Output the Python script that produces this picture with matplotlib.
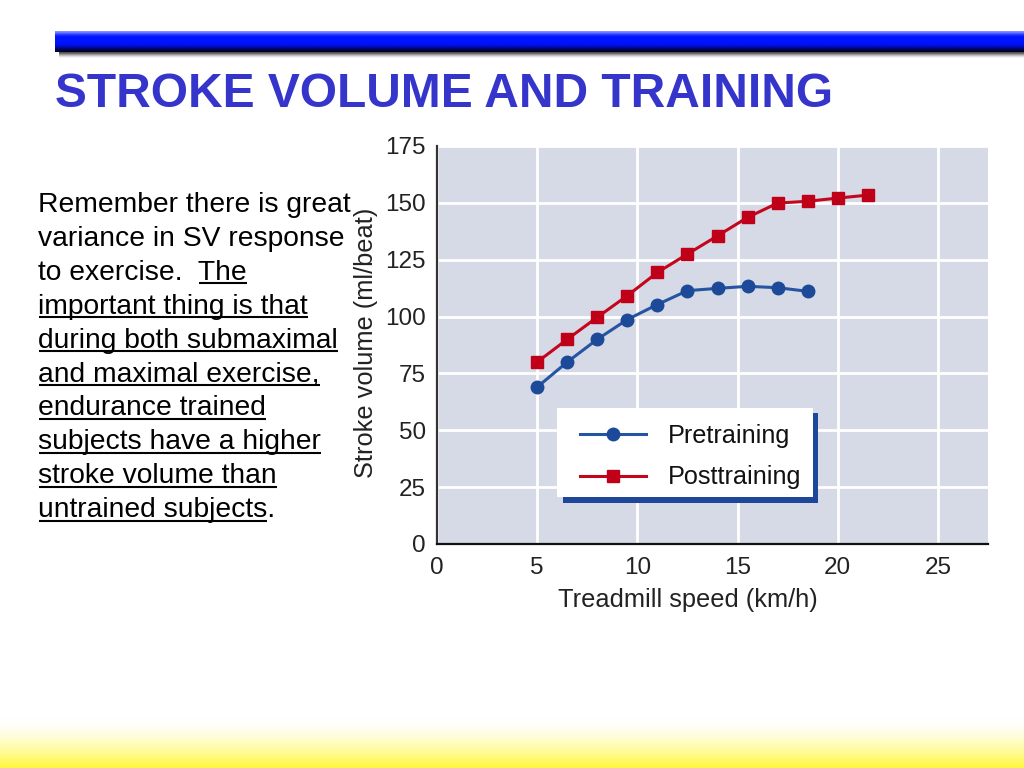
import matplotlib
matplotlib.use('Agg')
import matplotlib.pyplot as plt
from matplotlib.patches import Rectangle
import numpy as np

# ---------------- data ----------------
speed_pre = [5, 6.5, 8, 9.5, 11, 12.5, 14, 15.5, 17, 18.5]
sv_pre = [69, 80, 90, 98.7, 105.3, 111.4, 112.4, 113.3, 112.7, 111.1]
speed_post = [5, 6.5, 8, 9.5, 11, 12.5, 14, 15.5, 17, 18.5, 20, 21.5]
sv_post = [80, 90, 99.7, 109.2, 119.4, 127.5, 135.5, 143.6, 149.9, 150.7, 152.1, 153.4]
x_ticks = [0, 5, 10, 15, 20, 25]
y_ticks = [0, 25, 50, 75, 100, 125, 150, 175]
series_labels = ['Pretraining', 'Posttraining']
x_label = 'Treadmill speed (km/h)'
y_label = 'Stroke volume (ml/beat)'
title_text = 'STROKE VOLUME AND TRAINING'
# (plain, underlined, plain) per line
body_lines = [
    ("Remember there is great", "", ""),
    ("variance in SV response", "", ""),
    ("to exercise.  ", "The", ""),
    ("", "important thing is that", ""),
    ("", "during both submaximal", ""),
    ("", "and maximal exercise,", ""),
    ("", "endurance trained", ""),
    ("", "subjects have a higher", ""),
    ("", "stroke volume than", ""),
    ("", "untrained subjects", "."),
]

plt.rcParams['font.family'] = ['Liberation Sans', 'DejaVu Sans']

W, H = 1024, 768
fig = plt.figure(figsize=(W / 100, H / 100), dpi=100)
fig.patch.set_facecolor('white')

# background / pixel-coordinate axes
bg = fig.add_axes([0, 0, 1, 1], zorder=0)
bg.set_axis_off()

# top blue bar with gradient
bar_cols = np.array([
    [130, 140, 255], [60, 80, 255], [10, 30, 255], [0, 20, 255], [0, 20, 255],
    [0, 20, 255], [0, 18, 250], [0, 15, 230], [0, 10, 170], [0, 5, 90], [0, 0, 40]
], dtype=float) / 255
bg.imshow(bar_cols[:, None, :], extent=(55, W, 52, 31), aspect='auto',
          interpolation='bilinear', origin='upper', zorder=2)
shadow_cols = np.array([[80, 80, 80], [140, 140, 140], [200, 200, 200], [245, 245, 245]],
                       dtype=float) / 255
bg.imshow(shadow_cols[:, None, :], extent=(59, W, 58, 52), aspect='auto',
          interpolation='bilinear', origin='upper', zorder=1)

# bottom yellow gradient
n = 50
t = np.linspace(0, 1, n) ** 1.6
yel = np.zeros((n, 1, 3))
yel[:, 0, 0] = 1.0
yel[:, 0, 1] = 1.0 - t * (1 - 248 / 255)
yel[:, 0, 2] = 1.0 - t * (1 - 60 / 255)
bg.imshow(yel, extent=(0, W, H, 718), aspect='auto', interpolation='bilinear',
          origin='upper', zorder=1)

bg.set_xlim(0, W)
bg.set_ylim(H, 0)

# title
bg.text(55, 107, title_text, fontsize=34.5, fontweight='bold', color='#3535cc',
        ha='left', va='baseline')

# body text with underlines
fig.canvas.draw()
renderer = fig.canvas.get_renderer()
body_fs = 20.3


def text_width(s):
    if not s:
        return 0.0
    t1 = bg.text(0, 0, s + 'X', fontsize=body_fs)
    t2 = bg.text(0, 0, 'X', fontsize=body_fs)
    w = t1.get_window_extent(renderer).width - t2.get_window_extent(renderer).width
    t1.remove()
    t2.remove()
    return w


x0 = 38
base0 = 212
step = 33.9
for i, (pre, und, post) in enumerate(body_lines):
    yb = base0 + i * step
    bg.text(x0, yb, pre + und + post, fontsize=body_fs, color='black',
            ha='left', va='baseline')
    if und:
        xs = x0 + text_width(pre)
        xe = xs + text_width(und)
        bg.plot([xs + 1, xe], [yb + 3.5, yb + 3.5], color='black', lw=1.5,
                solid_capstyle='butt')

# ---------------- chart ----------------
ax = fig.add_axes([437 / W, (H - 544) / H, 551 / W, 398 / H], zorder=3)
ax.set_facecolor('#d6d9e6')
ax.set_xlim(0, 27.5)
ax.set_ylim(0, 175)
ax.set_xticks(x_ticks)
ax.set_yticks(y_ticks)
ax.grid(True, color='white', lw=2)
ax.set_axisbelow(True)
for s in ['top', 'right']:
    ax.spines[s].set_visible(False)
ax.spines['left'].set_color('#333333')
ax.spines['left'].set_linewidth(1.6)
ax.spines['bottom'].set_color('#111111')
ax.spines['bottom'].set_linewidth(1.6)
ax.tick_params(length=0, labelsize=17.5, colors='#222222')
ax.tick_params(axis='x', pad=9)
ax.tick_params(axis='y', pad=8)

ax.plot(speed_pre, sv_pre, color='#2554a3', lw=2.2, marker='o', markersize=9,
        markerfacecolor='#1c4a98', markeredgecolor='#1c4a98',
        label=series_labels[0], clip_on=False, zorder=4)
ax.plot(speed_post, sv_post, color='#c4061c', lw=2.2, marker='s', markersize=9,
        markerfacecolor='#c00018', markeredgecolor='#c00018',
        label=series_labels[1], clip_on=False, zorder=4)

ax.set_xlabel(x_label, fontsize=18.3, color='#222222')
ax.set_ylabel(y_label, fontsize=18.3, color='#222222')
ax.xaxis.set_label_coords((688 - 437) / 551, (544 - 600) / 398)
ax.xaxis.label.set_va('center')
ax.yaxis.set_label_coords((366 - 437) / 551, (544 - 343) / 398)
ax.yaxis.label.set_va('center')

# legend box with offset blue shadow (pixel coordinates)
pix = bg.transData
ax.add_patch(Rectangle((563, 413), 255, 90, transform=pix, facecolor='#1e4799',
                       edgecolor='none', clip_on=False, zorder=5))
ax.add_patch(Rectangle((557, 408), 256, 89, transform=pix, facecolor='white',
                       edgecolor='none', clip_on=False, zorder=5.5))

leg = ax.legend(loc='upper left', bbox_to_anchor=(580 / W, 1 - 424 / H),
                bbox_transform=fig.transFigure, borderaxespad=0, borderpad=0,
                fontsize=18.2, handlelength=2.6, handletextpad=0.86,
                labelspacing=0.69, frameon=False)
leg.set_zorder(6)
for txt in leg.get_texts():
    txt.set_color('#111111')

fig.savefig('out.png', dpi=100, facecolor='white')
